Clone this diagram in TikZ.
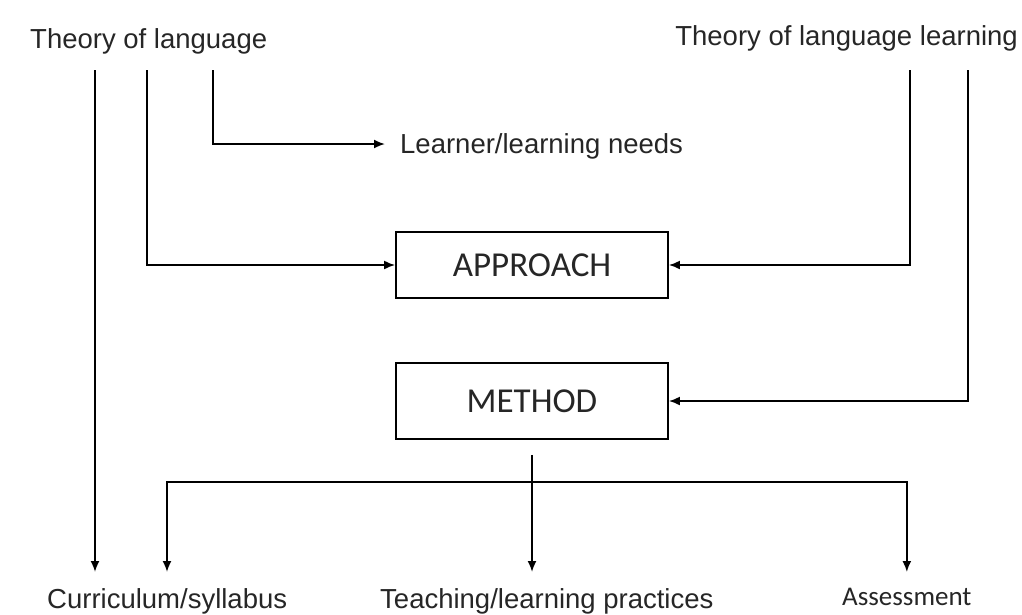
\documentclass[tikz,border=0pt]{standalone}
\usepackage{fontspec}
\setmainfont{Liberation Sans}
\newfontfamily\calibri{Carlito}
\usetikzlibrary{arrows.meta}

\begin{document}
\begin{tikzpicture}
	[x=1pt, y=-1pt, >={Latex[length=11pt, width=9pt]},
	txt/.style={inner sep=0, text height=20pt, text depth=6pt, text=black!85, font=\fontsize{27.5}{30}\selectfont},
	stage/.style={draw, line width=1.8pt, minimum width=272pt, inner sep=0, text=black!85, font=\calibri\fontsize{35}{40}\selectfont},
	link/.style={line width=1.8pt, ->},
	feed/.style={link, shorten >=16pt}]
	\useasboundingbox (0,0) rectangle (1022,614);

	% sources
	\node[txt, anchor=base west] (lang) at (30,48) {Theory of language};
	\node[txt, anchor=base east] (learn) at (1018,45) {Theory of language learning};
	\node[txt, anchor=base west] (needs) at (400,153) {Learner/learning needs};

	% boxes
	\node[stage, minimum height=66pt] (approach) at (532,265) {APPROACH};
	\node[stage, minimum height=76pt] (method) at (532,401) {METHOD};

	% outcomes
	\node[txt, anchor=north west] (syllabus) at (47,588) {Curriculum/syllabus};
	\node[txt, anchor=north west] (practice) at (380,588) {Teaching/learning practices};
	\node[txt, anchor=north west, text height=17pt, font=\calibri\fontsize{27}{30}\selectfont] (assess) at (842,588) {Assessment};

	\coordinate (l1) at (95,70);
	\coordinate (l2) at (147,70);
	\coordinate (l3) at (213,70);
	\coordinate (r1) at (910,70);
	\coordinate (r2) at (968,70);
	\coordinate (fork) at (167,482);

	\draw[feed] (l1) -- (l1 |- syllabus.north);
	\draw[link] (l2) |- (approach.west);
	\draw[link] (l3) |- ([shift={(-15pt,2pt)}]needs.west);
	\draw[link] (r1) |- (approach.east);
	\draw[link] (r2) |- (method.east);
	\draw[feed, shorten <=15pt] (method.south) -- (method.south |- practice.north);
	\draw[feed, <->, shorten <=16pt] (fork |- syllabus.north) -- (fork) -| (assess.north);
\end{tikzpicture}
\end{document}
